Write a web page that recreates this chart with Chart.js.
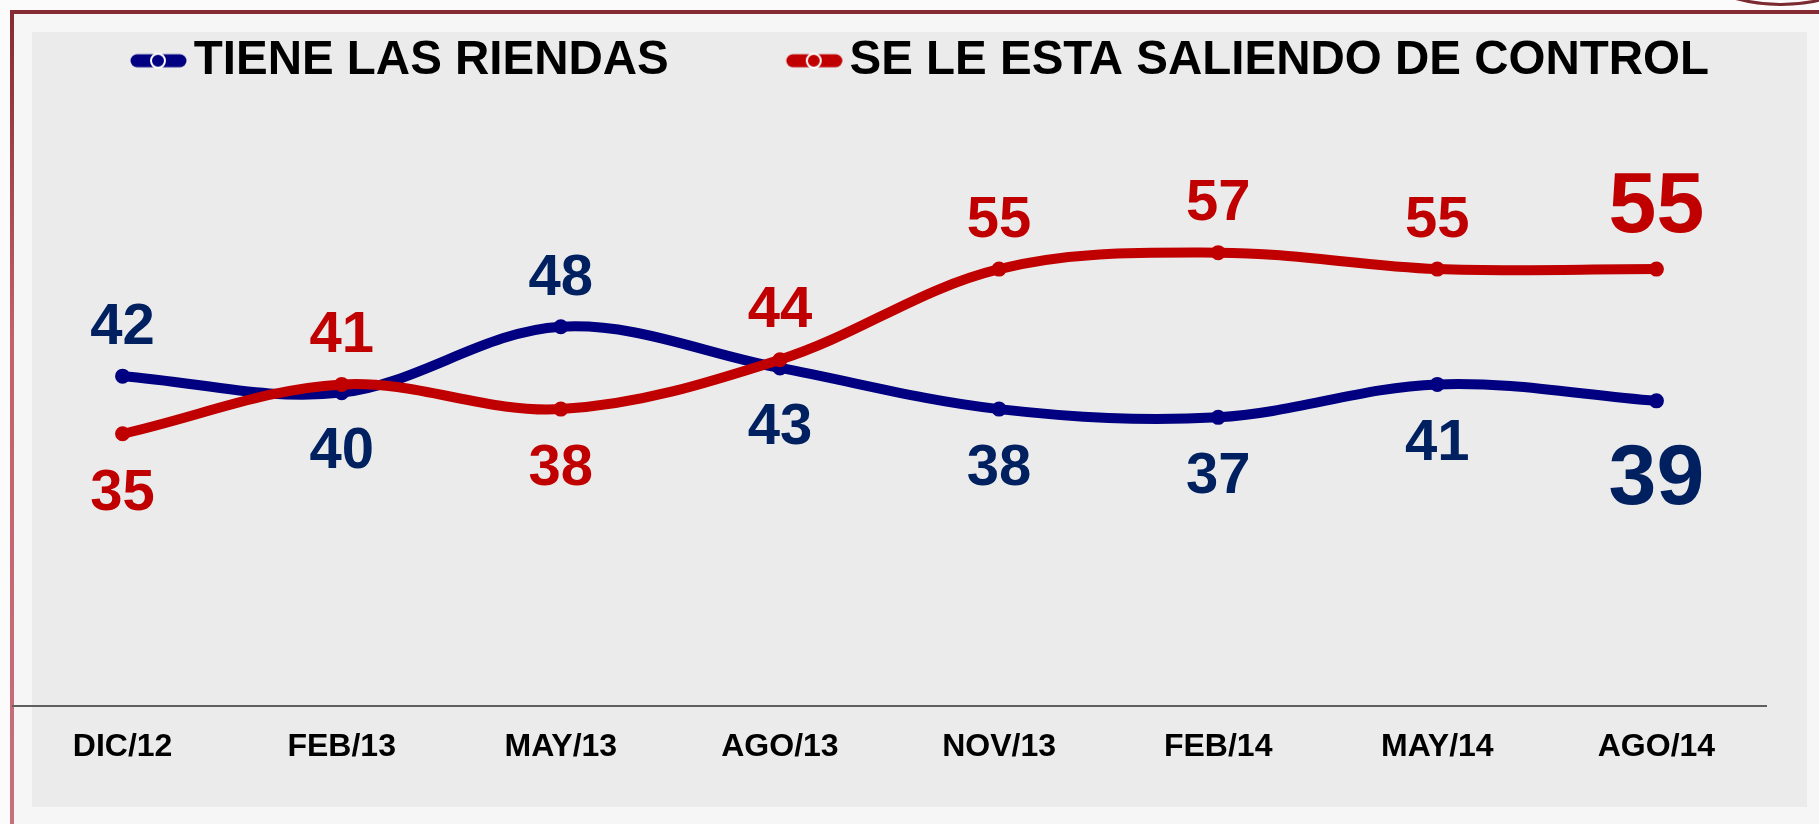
<!DOCTYPE html>
<html>
<head>
<meta charset="utf-8">
<script src="https://cdn.jsdelivr.net/npm/chart.js@4.4.1/dist/chart.umd.min.js"></script>
<style>
    html, body { margin: 0; padding: 0; width: 1819px; height: 824px; overflow: hidden; background: #fbfbfb; }
    #frame   { position: absolute; left: 14px; top: 14px; right: 0; bottom: 0; background: #f6f6f6; }
    #topLine { position: absolute; left: 10px; top: 10px; right: 0; height: 4px; background: #862a33; }
    #leftLine{ position: absolute; left: 10px; top: 10px; width: 4px; bottom: 0; background: linear-gradient(#862a33, #c2606b 40%, #c8707a); }
    #panel   { position: absolute; left: 32px; top: 32px; width: 1775px; height: 775px; background: #ebebeb; }
    #ring    { position: absolute; left: 1606px; top: -344px; width: 350px; height: 350px; border: 3px solid #7a2a30; border-radius: 50%; box-sizing: border-box; }
    canvas   { position: absolute; left: 0; top: 0; }
</style>
</head>
<body>
<div id="frame"></div>
<div id="panel"></div>
<div id="topLine"></div>
<div id="leftLine"></div>
<div id="ring"></div>
<canvas id="trendChart" width="1819" height="824"></canvas>
<script>
// === DATA ===
const periods          = ['DIC/12', 'FEB/13', 'MAY/13', 'AGO/13', 'NOV/13', 'FEB/14', 'MAY/14', 'AGO/14'];
const tieneLasRiendas  = [42, 40, 48, 43, 38, 37, 41, 39];
const saliendoControl  = [35, 41, 38, 44, 55, 57, 55, 55];

// where each value label sits relative to its point
const tieneLabelSide    = ['above', 'below', 'above', 'below', 'below', 'below', 'below', 'below'];
const saliendoLabelSide = ['below', 'above', 'below', 'above', 'above', 'above', 'above', 'above'];

const COLORS = {
    blueLine: '#000080',
    redLine:  '#C00000',
    blueText: '#002060',
    redText:  '#C00000',
    axis:     '#5f5f5f',
};
const FONT = "'Liberation Sans', Arial, sans-serif";

// legend marker: thick line with a white-ringed dot, drawn at the right end of a wider transparent image
function legendMarker(color) {
    const c   = document.createElement('canvas');
    c.width   = 171;
    c.height  = 20;
    const ctx = c.getContext('2d');
    ctx.strokeStyle = color;
    ctx.lineWidth   = 13;
    ctx.lineCap     = 'round';
    ctx.beginPath();
    ctx.moveTo(c.width - 50, 10);
    ctx.lineTo(c.width - 7, 10);
    ctx.stroke();
    ctx.beginPath();
    ctx.arc(c.width - 29, 10, 7, 0, Math.PI * 2);
    ctx.fillStyle = color;
    ctx.fill();
    ctx.lineWidth   = 2;
    ctx.strokeStyle = '#ffffff';
    ctx.stroke();
    return c;
}
const markers = [legendMarker(COLORS.blueLine), legendMarker(COLORS.redLine)];

// value labels above / below every point
const pointLabels = {
    id: 'pointLabels',
    afterDatasetsDraw(chart) {
        const ctx = chart.ctx;
        chart.data.datasets.forEach((ds, i) => {
            const meta = chart.getDatasetMeta(i);
            meta.data.forEach((pt, j) => {
                const last  = j === ds.data.length - 1;
                const size  = last ? 86 : 58;
                const above = ds.labelSide[j] === 'above';
                const gap   = last ? (above ? 68 : 72) : (above ? 53 : 55);
                const cy    = pt.y + (above ? -gap : gap);
                ctx.save();
                ctx.font         = `bold ${size}px ${FONT}`;
                ctx.fillStyle    = ds.labelColor;
                ctx.textAlign    = 'center';
                ctx.textBaseline = 'alphabetic';
                ctx.fillText(String(ds.data[j]), pt.x, cy + size * 0.358);
                ctx.restore();
            });
        });
    },
};

new Chart(document.getElementById('trendChart').getContext('2d'), {
    type: 'line',
    data: {
        labels: periods,
        datasets: [{
            label:                'TIENE LAS RIENDAS',
            data:                 tieneLasRiendas,
            borderColor:          COLORS.blueLine,
            backgroundColor:      COLORS.blueLine,
            pointBackgroundColor: COLORS.blueLine,
            labelColor:           COLORS.blueText,
            labelSide:            tieneLabelSide,
            order:                1,
        }, {
            label:                'SE LE ESTA SALIENDO DE CONTROL',
            data:                 saliendoControl,
            borderColor:          COLORS.redLine,
            backgroundColor:      COLORS.redLine,
            pointBackgroundColor: COLORS.redLine,
            labelColor:           COLORS.redText,
            labelSide:            saliendoLabelSide,
            order:                0,
        }],
    },
    options: {
        responsive: false,
        animation: false,
        devicePixelRatio: 1,
        layout: { padding: { left: 13, right: 53, top: 17, bottom: 44 } },
        elements: {
            line:  { borderWidth: 10, tension: 0.35, borderCapStyle: 'round', fill: false },
            point: { radius: 6.5, hoverRadius: 6.5, borderWidth: 2, borderColor: '#ffffff' },
        },
        plugins: {
            tooltip: { enabled: false },
            legend: {
                position: 'top',
                align: 'start',
                labels: {
                    usePointStyle:   true,
                    pointStyleWidth: 137,
                    boxHeight:       16,
                    padding:         20,
                    color:           '#000000',
                    font:            { family: FONT, size: 47.5, weight: 'bold' },
                    generateLabels(chart) {
                        const items = Chart.defaults.plugins.legend.labels.generateLabels(chart);
                        items.forEach(it => { it.pointStyle = markers[it.datasetIndex]; });
                        return items.sort((a, b) => a.datasetIndex - b.datasetIndex);
                    },
                },
            },
        },
        scales: {
            x: {
                offset: true,
                grid:   { display: false },
                border: { display: true, color: COLORS.axis, width: 2 },
                ticks:  { color: '#000000', padding: 14, font: { family: FONT, size: 32, weight: 'bold' } },
            },
            y: { display: false, min: 2, max: 76.2 },
        },
    },
    plugins: [pointLabels],
});
</script>
</body>
</html>
